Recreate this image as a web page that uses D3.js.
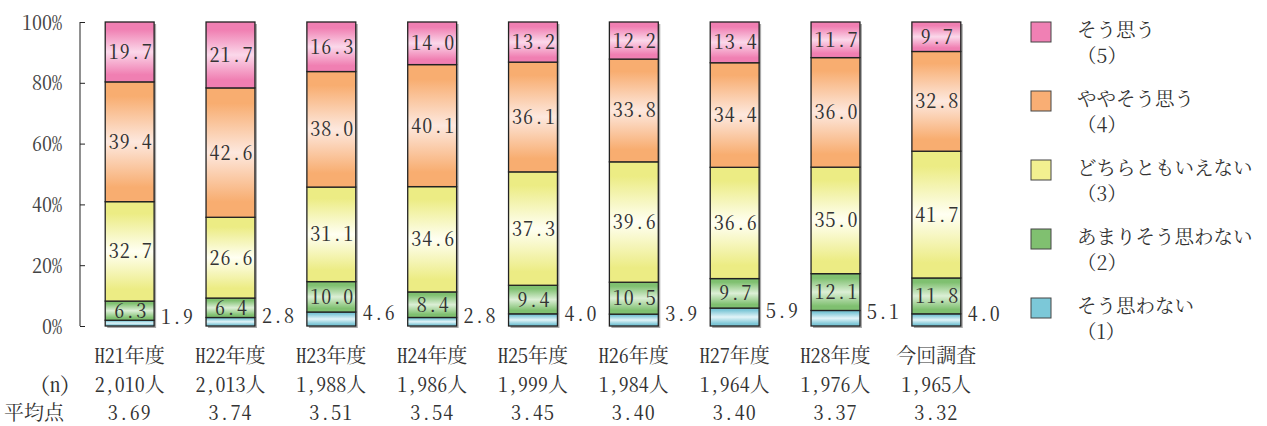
<!DOCTYPE html>
<html><head><meta charset="utf-8">
<script src="https://cdn.jsdelivr.net/npm/d3@7"></script>
<style>
body{margin:0;background:#fff;}
</style></head><body>
<svg id="c" width="1267" height="426"></svg>
<script>
const categories=["H21年度","H22年度","H23年度","H24年度","H25年度","H26年度","H27年度","H28年度","今回調査"];
const nLabels=["2,010人","2,013人","1,988人","1,986人","1,999人","1,984人","1,964人","1,976人","1,965人"];
const avgLabels=["3.69","3.74","3.51","3.54","3.45","3.40","3.40","3.37","3.32"];
const s1=[1.9,2.8,4.6,2.8,4.0,3.9,5.9,5.1,4.0];
const s2=[6.3,6.4,10.0,8.4,9.4,10.5,9.7,12.1,11.8];
const s3=[32.7,26.6,31.1,34.6,37.3,39.6,36.6,35.0,41.7];
const s4=[39.4,42.6,38.0,40.1,36.1,33.8,34.4,36.0,32.8];
const s5=[19.7,21.7,16.3,14.0,13.2,12.2,13.4,11.7,9.7];
const seriesNames=["そう思わない","あまりそう思わない","どちらともいえない","ややそう思う","そう思う"];
const seriesNums=["（1）","（2）","（3）","（4）","（5）"];
const yTicks=[0,20,40,60,80,100];

const FONT="'Noto Serif CJK JP','Liberation Serif',serif";
const series=[s1,s2,s3,s4,s5];
const edge=["#7cc6d6","#7fc070","#ecec84","#f8ad70","#f07fb2"];
const mid=["#e2f4f8","#dcefd6","#fffff2","#fde8de","#fbd8ea"];
const legendCol=["#7cc8d8","#80c070","#f2f090","#f9ae74","#f080b4"];

const svg=d3.select("#c");
const defs=svg.append("defs");
edge.forEach((e,i)=>{
  const g=defs.append("linearGradient").attr("id","g"+i).attr("x1",0).attr("y1",0).attr("x2",0).attr("y2",1);
  g.append("stop").attr("offset","0%").attr("stop-color",e);
  g.append("stop").attr("offset","12%").attr("stop-color",e);
  g.append("stop").attr("offset","50%").attr("stop-color",mid[i]);
  g.append("stop").attr("offset","88%").attr("stop-color",e);
  g.append("stop").attr("offset","100%").attr("stop-color",e);
});

function txt(sel,size,hw=true){
  sel.style("font-family",FONT).style("font-size",size+"px").attr("fill","#333");
  if(hw) sel.style("font-feature-settings","'hwid'");
  return sel;
}

const x=d3.scaleBand().domain(categories).range([80,986]).paddingInner(0.515).paddingOuter(0.25);
const y=d3.scaleLinear().domain([0,100]).range([326,22]);

// axis
const ax=svg.append("g").attr("transform","translate(80,0)").call(d3.axisLeft(y).tickValues(yTicks).tickSize(-5).tickFormat(d=>d+"%").tickPadding(18));
ax.select(".domain").attr("stroke","#222").attr("d","M0,326V22");
ax.selectAll(".tick line").attr("stroke","#222");
txt(ax.selectAll("text"),20).attr("fill","#444").attr("dy","0.35em");

categories.forEach((c,ci)=>{
  const tot=series.reduce((a,s)=>a+s[ci],0);
  let acc=0;
  const bx=x(c), bw=x.bandwidth();
  svg.append("rect").attr("x",bx+2).attr("y",y(100)+2).attr("width",bw).attr("height",y(0)-y(100)).attr("fill","#aaa");
  series.forEach((s,si)=>{
    const v=s[ci]/tot*100;
    const y0=y(acc), y1=y(acc+v);
    acc+=v;
    svg.append("rect").attr("x",bx).attr("y",y1).attr("width",bw).attr("height",y0-y1)
      .attr("fill","url(#g"+si+")").attr("stroke","#222").attr("stroke-width",1.3);
    const label=s[ci].toFixed(1);
    if(si===0){
      txt(svg.append("text").attr("x",bx+bw+7).attr("y",(y0+y1)/2-6).attr("dy","0.35em"),20)
        .style("letter-spacing","1px").text(label);
    } else {
      txt(svg.append("text").attr("x",bx+bw/2+1).attr("y",(y0+y1)/2).attr("dy","0.35em").attr("text-anchor","middle"),20)
        .style("letter-spacing","1px").text(label);
    }
  });
  const cx=bx+bw/2;
  txt(svg.append("text").attr("x",cx).attr("y",356).attr("dy","0.35em").attr("text-anchor","middle"),20).text(c);
  txt(svg.append("text").attr("x",cx).attr("y",385).attr("dy","0.35em").attr("text-anchor","middle"),20).text(nLabels[ci]);
  txt(svg.append("text").attr("x",cx).attr("y",413).attr("dy","0.35em").attr("text-anchor","middle"),20).style("letter-spacing","1px").text(avgLabels[ci]);
});
txt(svg.append("text").attr("x",70).attr("y",385).attr("dy","0.35em").attr("text-anchor","end"),20).text("（n）");
txt(svg.append("text").attr("x",4).attr("y",413).attr("dy","0.35em"),20).text("平均点");

// legend
const legOrder=[4,3,2,1,0];
legOrder.forEach((si,k)=>{
  const ly=22+k*69;
  svg.append("rect").attr("x",1031).attr("y",ly).attr("width",20).attr("height",20).attr("fill",legendCol[si]).attr("stroke","#444").attr("stroke-width",1);
  txt(svg.append("text").attr("x",1077).attr("y",ly+8).attr("dy","0.35em"),19.5,false).text(seriesNames[si]);
  txt(svg.append("text").attr("x",1077).attr("y",ly+34).attr("dy","0.35em"),19.5,false).text(seriesNums[si]);
});
</script></body></html>
